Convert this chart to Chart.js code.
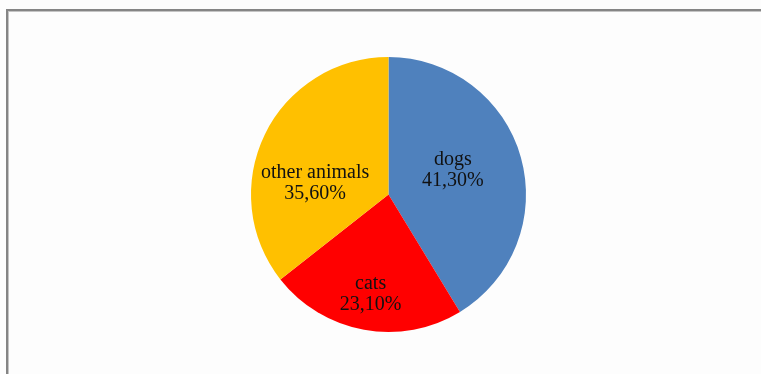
<!DOCTYPE html>
<html>
<head>
<style>
	html, body { margin: 0; padding: 0; background: #fdfdfd; }
	#wrap { position: relative; width: 761px; height: 374px; }
	#frame { position: absolute; left: 6px; top: 9px; right: 0; bottom: 0; border-top: 2px solid #858585; border-left: 2px solid #858585; box-shadow: inset 1px 1px 0 #c4c4c4; }
	canvas { position: absolute; left: 0; top: 0; }
</style>
</head>
<body>
<div id="wrap">
	<div id="frame"></div>
	<canvas id="_chart" width="761" height="374"></canvas>
</div>

<script src="https://cdn.jsdelivr.net/npm/chart.js@4/dist/chart.umd.min.js"></script>
<script>
var categories = ['dogs', 'cats', 'other animals'];
var shares = [41.3, 23.1, 35.6];
var colors = ['#4f81bd', '#ff0000', '#ffc000'];

// where each label sits inside its slice: fraction of radius, angle shift (deg)
var labelSpots = [ {r: 0.5, da: -5}, {r: 0.73, da: 0}, {r: 0.54, da: -17} ];

function pct(v) {
	return v.toFixed(2).replace('.', ',') + '%';
}

var sliceLabels = {
	id: 'sliceLabels',
	afterDatasetsDraw(chart) {
		var ctx = chart.ctx;
		var arcs = chart.getDatasetMeta(0).data;
		ctx.save();
		ctx.font = '20px "Liberation Serif", "Times New Roman", serif';
		ctx.fillStyle = '#111';
		ctx.textAlign = 'center';
		ctx.textBaseline = 'middle';
		arcs.forEach((arc, i) => {
			var p = arc.getProps(['x', 'y', 'startAngle', 'endAngle', 'outerRadius'], true);
			var a = (p.startAngle + p.endAngle) / 2 + labelSpots[i].da * Math.PI / 180;
			var r = p.outerRadius * labelSpots[i].r;
			var x = p.x + Math.cos(a) * r;
			var y = p.y + Math.sin(a) * r;
			ctx.fillText(categories[i], x, y - 10);
			ctx.fillText(pct(shares[i]), x, y + 11);
		});
		ctx.restore();
	}
};

var chart = new Chart(_chart, {
	type: 'pie',
	data: {
		labels: categories,
		datasets: [{
			data: shares,
			backgroundColor: colors,
			borderWidth: 0
		}]
	},
	options: {
		responsive: false,
		animation: false,
		layout: { padding: { left: 251, right: 235, top: 57, bottom: 42 } },
		plugins: {
			legend: { display: false },
			tooltip: { enabled: false }
		}
	},
	plugins: [sliceLabels]
});
</script>
</body>
</html>
